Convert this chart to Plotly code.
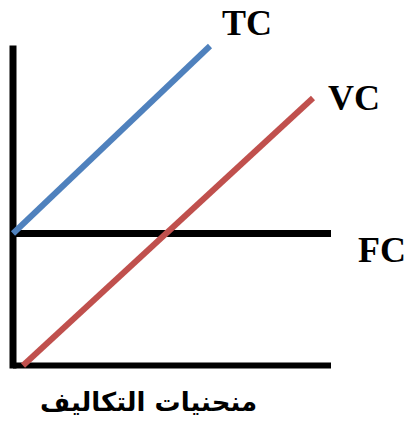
import plotly.graph_objects as go

# Data (cost units vs quantity)
axis_v_q = [0, 0]
axis_v_c = [-3, 320]
axis_h_q = [0, 318]
axis_h_c = [0, 0]

fc_q = [0, 318]
fc_c = [132, 132]

tc_q = [0, 197]
tc_c = [132, 319.5]

vc_q = [10, 300]
vc_c = [0, 267.5]

labels = ["TC", "VC", "FC"]
label_q = [234, 341, 369]
label_c = [343, 267.5, 115.5]
title_text = "منحنيات التكاليف"

BLACK = "#000000"
BLUE = "#4F81BD"
RED = "#C0504D"

fig = go.Figure()
fig.add_trace(go.Scatter(x=axis_v_q, y=axis_v_c, mode="lines",
                         line=dict(color=BLACK, width=7), hoverinfo="skip"))
fig.add_trace(go.Scatter(x=axis_h_q, y=axis_h_c, mode="lines",
                         line=dict(color=BLACK, width=6), hoverinfo="skip"))
fig.add_trace(go.Scatter(x=fc_q, y=fc_c, mode="lines",
                         line=dict(color=BLACK, width=7), name="FC"))
fig.add_trace(go.Scatter(x=vc_q, y=vc_c, mode="lines",
                         line=dict(color=RED, width=6), name="VC"))
fig.add_trace(go.Scatter(x=tc_q, y=tc_c, mode="lines",
                         line=dict(color=BLUE, width=6), name="TC"))

for t, q, c in zip(labels, label_q, label_c):
    fig.add_annotation(x=q, y=c, xref="x", yref="y", text="<b>%s</b>" % t,
                       showarrow=False, xanchor="center", yanchor="middle",
                       font=dict(family="Liberation Serif", size=36, color=BLACK))

fig.add_annotation(x=135, y=-36.5, xref="x", yref="y", text="<b>%s</b>" % title_text,
                   showarrow=False, xanchor="center", yanchor="middle",
                   font=dict(family="DejaVu Sans", size=26, color=BLACK))

fig.update_layout(
    width=409, height=424,
    margin=dict(l=0, r=0, t=0, b=0),
    paper_bgcolor="white", plot_bgcolor="white",
    showlegend=False,
    xaxis=dict(range=[-13, 396], visible=False, fixedrange=True),
    yaxis=dict(range=[-58.5, 365.5], visible=False, fixedrange=True),
)

fig.write_html("out.html", config={"displayModeBar": False})
